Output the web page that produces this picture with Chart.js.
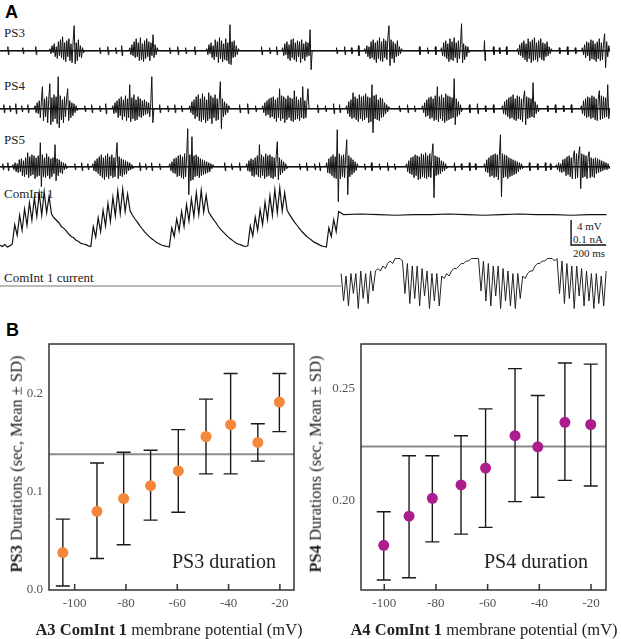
<!DOCTYPE html>
<html>
<head>
<meta charset="utf-8">
<script src="https://cdn.jsdelivr.net/npm/chart.js@4"></script>
<style>
  body { margin: 0; background: #fff; }
  #fig { position: relative; width: 621px; height: 639px; overflow: hidden; font-family: 'Liberation Serif', 'Times New Roman', serif; color: #222; }
  #fig canvas { position: absolute; }
  .lbl { position: absolute; white-space: nowrap; line-height: 1; }
  .panel { font-family: 'Liberation Sans', Arial, sans-serif; font-weight: bold; font-size: 18px; color: #000; }
  .trace { font-size: 13px; }
  .bar { font-size: 11px; }
  .axis { font-size: 16.5px; }
  .note { font-size: 20px; }
  .rot { transform: translate(-50%, -50%) rotate(-90deg); }
  .mid { transform: translate(-50%, -50%); }
</style>
</head>
<body>
<div id="fig">
  <div class="lbl panel" style="left:5px;top:3px">A</div>
  <div class="lbl trace" style="left:4px;top:26px">PS3</div>
  <div class="lbl trace" style="left:4px;top:79px">PS4</div>
  <div class="lbl trace" style="left:4px;top:133px">PS5</div>
  <div class="lbl trace" style="left:4px;top:187px">ComInt 1</div>
  <div class="lbl trace" style="left:4px;top:271px">ComInt 1 current</div>
  <div class="lbl bar" style="left:577px;top:221px">4 mV</div>
  <div class="lbl bar" style="left:573px;top:234px">0.1 nA</div>
  <div class="lbl bar" style="left:573px;top:248px">200 ms</div>

  <canvas id="ps3" width="610" height="54" style="left:0;top:18px"></canvas>
  <canvas id="ps4" width="610" height="66" style="left:0;top:70px"></canvas>
  <canvas id="ps5" width="610" height="84" style="left:0;top:122px"></canvas>
  <canvas id="comint" width="610" height="70" style="left:0;top:182px"></canvas>
  <canvas id="current" width="610" height="64" style="left:0;top:252px"></canvas>

  <div class="lbl panel" style="left:6px;top:321px">B</div>
  <canvas id="durPS3" width="310" height="324" style="left:0;top:315px"></canvas>
  <canvas id="durPS4" width="311" height="324" style="left:310px;top:315px"></canvas>
  <div class="lbl axis rot" style="left:17px;top:464px"><b>PS3</b> Durations (sec, Mean ± SD)</div>
  <div class="lbl axis rot" style="left:316px;top:464px"><b>PS4</b> Durations (sec, Mean ± SD)</div>
  <div class="lbl axis mid" style="left:169px;top:630px"><b>A3 ComInt 1</b> membrane potential (mV)</div>
  <div class="lbl axis mid" style="left:484px;top:630px"><b>A4 ComInt 1</b> membrane potential (mV)</div>
  <div class="lbl note" style="left:172px;top:551px">PS3 duration</div>
  <div class="lbl note" style="left:484px;top:551px">PS4 duration</div>
</div>

<script>
// ---------- Panel A: recordings (time in ms) ----------
const T_MAX = 3480;
const SAMPLE_MS = 6;    // extracellular burst sampling
const INTRA_MS = 14;    // intracellular sampling
const STEP_MS = 1946;   // switch to voltage clamp

// PS3 bursts
const ps3Starts = [285, 741, 1180, 1613, 2081, 2519, 2953, 3323];
const ps3Bursts = [
  [2,-3,5,-2,7,-6,4,-8,9,-5,11,-7,14,-9,8,-11,10,-6,12,-10,7,-12,9,25,-13,8,-10,11,-6,5,-7,3,-2],
  [3,-4,6,-5,9,-7,12,-6,8,-10,13,-9,7,-11,10,-8,12,-6,9,-10,8,-5,16,-7,6,-4,3],
  [2,-4,6,-3,8,-7,5,-9,11,-6,9,-12,13,-8,10,-11,7,-9,12,-10,8,-13,26,-14,9,-7,10,-6,5,-4,2],
  [3,-5,7,-4,9,-8,6,-10,11,-7,12,-9,8,-11,10,-6,9,-12,11,-8,7,-10,9,-6,8,-5,21,-19],
  [2,-3,5,-6,4,-8,9,-7,11,-9,8,-12,10,-8,13,-10,9,-11,12,-7,10,-9,14,25,-15,11,-8,9,-12,7,-6,10,-5,4,-3,2],
  [3,-5,8,-6,10,-8,7,-11,12,-9,9,-10,13,-7,8,-12,10,-8,6,27,-12,7,-9,5,-6,4,-2],
  [2,-4,6,-5,8,-7,10,-9,7,-11,12,-8,9,-12,11,-10,13,-9,8,-11,10,-7,12,-9,8,-10,7,-6,9,-5,4,-3,2],
  [3,-4,6,-7,9,-5,8,-10,11,-8,10,-9,7,-11,9,-8,12,-10,8,-9,6,17,-17,9,-6,5]
];
const ps3Ticks = [46,131,205,570,616,661,695,969,1015,1060,1112,1493,1539,1579,1921,1967,2006,2046,2394,2440,2485,2765,2816,2850,2890,3192,3238,3283];
const ps3TickAmps = [4,3,4,3,4,3,5,3,4,3,4,4,3,4,3,4,3,5,4,3,4,10,4,3,4,3,4,3];

// PS4 bursts
const ps4Starts = [200, 644, 1083, 1499, 1978, 2411, 2867, 3317];
const ps4Bursts = [
  [3,-4,6,-5,8,-9,7,22,-12,10,-8,12,-14,9,25,-16,11,-13,14,-10,12,-15,32,-19,13,-11,9,-14,12,-8,10,20,-12,8,-9,6,-7,5,-4,3,-2],
  [3,-5,6,-4,8,-9,10,-7,12,-11,9,-8,13,-12,10,-9,24,-13,11,-10,14,-12,9,-11,12,-8,10,-9,8,-7,9,-6,7,-5,6,-8,5,32,-14],
  [3,-4,7,-6,9,-10,12,-8,14,-12,10,-13,15,-11,12,-14,9,-12,16,-10,13,-15,11,-9,14,-12,10,-11,9,27,-20,10,-8,7,-6,5,-4,3],
  [3,-4,6,-7,8,-6,10,-9,11,-8,12,-10,9,-13,11,-9,20,-12,13,-10,12,-14,10,-11,13,-9,11,-12,10,-13,18,-11,12,-10,9,-12,11,-9,22,-10,8,-9,7,20],
  [3,-5,7,-8,9,-10,16,-9,12,-11,10,-13,14,-10,12,-12,13,-11,15,-9,12,-14,11,-13,24,-24,13,-10,14,-11,9,-12,11,-9,10,-8,6,-5,4,-3,2],
  [3,-4,6,-8,9,-7,11,-10,12,-9,10,-12,13,-11,22,-13,12,-10,14,-12,11,-14,15,-12,13,-11,12,-10,11,-9,30,-16,10,-8,7,-6,4,-3],
  [3,-5,7,-6,9,-8,11,-10,12,-9,14,-11,10,-12,13,-10,12,-11,10,-13,11,18,-16,12,-10,11,-9,10,-8,26,-9,7,-5,4,-3],
  [3,-5,8,-7,10,-9,12,-8,11,-10,13,-9,12,-11,10,-12,9,18,-11,13,-10,12,-9,11,-8,24,-10]
];
const ps4Ticks = [23,57,91,125,160,485,524,570,604,912,958,998,1037,1368,1414,1459,1813,1858,1904,1938,2280,2326,2366,2679,2725,2770,2816,3124,3169,3215,3260];
const ps4TickAmps = [4,3,5,3,4,3,4,3,5,4,3,4,3,4,5,3,4,3,5,4,3,4,3,4,5,3,4,3,4,3,4];

// PS5 bursts
const ps5Starts = [74, 530, 969, 1408, 1864, 2320, 2765, 3175];
const ps5Bursts = [
  [2,-3,4,-5,3,-6,7,-5,8,-9,6,-10,9,-8,14,-11,10,-9,12,-8,11,-12,9,-10,11,-9,24,-20,12,-10,9,-11,13,-9,10,-12,8,-10,9,-7,22,-14,8,-9,7,-6,5,-7,4,-3,3,-2],
  [3,-4,6,-5,8,-7,10,-9,12,-11,9,-13,11,-10,13,-12,10,-9,12,-11,9,-10,11,24,-12,10,-9,8,-10,7,-8,6,-7,5,-4,4,-3,2,-2],
  [3,-4,5,-6,8,-7,9,-10,11,-9,12,-11,10,-12,13,-10,11,38,-28,12,-14,30,-13,11,-10,12,-9,10,-11,8,-9,7,-8,6,-7,5,-6,4,-5,3,-2,2],
  [3,-4,6,-5,8,-9,7,-10,9,-8,11,-10,22,-11,12,-9,10,-12,13,-10,11,-9,12,-11,10,-12,9,-10,11,25,-13,9,-8,7,-6,5,-4,3,-2],
  [4,-6,8,-7,10,-9,12,-11,10,-12,37,-35,13,-12,11,-10,12,-11,10,27,-28,11,-10,9,-8,7,-6,5,-4,3],
  [3,-5,6,-7,9,-8,10,-11,12,-9,11,-13,10,-12,13,-10,12,-11,14,-12,11,-10,13,-11,12,23,-31,11,-9,10,-8,9,-7,6,-5,5,-4,3,-2],
  [3,-5,7,-6,9,-10,11,-9,12,-11,13,-10,12,-13,11,32,-30,13,-11,12,-10,11,-12,9,-10,8,-9,7,-8,6,-7,5,-5,4,-3,3,-2],
  [2,-3,4,-5,3,-6,7,-5,8,-9,10,-8,11,-10,9,-12,11,16,-12,13,-11,12,20,-22,13,-11,12,-10,11,-12,10,15,-11,9,-10,8,-11,9,-7,8,-6,7,-5,6,-4,5,-3,4,-3,3,-2]
];
const ps5Ticks = [17,46,428,467,502,798,832,866,912,1283,1322,1368,1710,1750,1796,1824,2081,2120,2166,2212,2252,2594,2633,2679,2713,3021,3067,3112,3141];
const ps5TickAmps = [3,4,3,4,3,4,3,4,3,4,3,4,3,4,3,4,3,4,3,4,3,4,3,4,3,4,3,4,3];

// ComInt 1 membrane potential (mV, relative to trough), sampled every INTRA_MS
const comIntCycle1 = [0.2,0,0.3,-0.1,0.1,0.4,3.5,1.8,5.0,2.6,6.0,3.4,7.0,4.2,7.8,4.8,8.5,5.0,8.8,5.4,8.0,5.2,4.6,4.2,3.8,3.2,2.9,2.5,2.0,1.6,1.4,1.0,0.8,0.5,0.4,0.3,0.1,0.0];
const comIntCycle2 = [3.2,1.5,4.6,2.4,5.8,3.3,6.9,4.0,7.9,4.9,8.9,5.3,9.2,5.6,8.4,5.7,5.0,4.4,3.9,3.3,2.8,2.3,1.9,1.5,1.2,0.9,0.6,0.4,0.2,0.1,0.0,-0.1];
const comIntCycle3 = [3.0,1.6,4.4,2.5,5.6,3.2,6.7,4.1,7.6,4.8,8.6,5.1,9.0,5.5,8.2,5.5,4.9,4.3,3.8,3.2,2.7,2.3,1.9,1.5,1.2,0.9,0.6,0.4,0.3,0.1,0.0,0.1];
const comIntCycle4 = [3.3,1.7,4.7,2.6,5.9,3.5,7.1,4.3,8.1,5.0,9.1,5.4,9.4,5.7,8.6,5.8,5.1,4.5,3.9,3.4,2.9,2.4,2.0,1.6,1.3,1.0,0.7,0.5,0.3,0.1,0.0,-0.1];
const comIntCycle5 = [3.0,1.6,4.3,2.4,5.6];
const comIntHeld = [5.1,5.2,5.1,5.0,5.1,5.1,5.2,5.1,5.0,5.1,5.2,5.1,5.1,5.0,5.1,5.1]; // every 100 ms after step

// ComInt 1 clamp current (nA), sampled every INTRA_MS after STEP_MS
const currentSamples = [
  0.05,-0.06,0.04,-0.08,0.05,-0.03,0.05,-0.09,0.06,-0.05,0.05,-0.07,0.06,-0.02,0.06,
  0.07,0.06,0.08,0.07,0.09,0.10,0.09,0.11,0.11,0.11,
  0.10,-0.03,0.09,-0.07,0.08,-0.05,0.08,-0.08,0.07,-0.04,0.06,-0.09,0.05,-0.06,0.05,-0.08,0.04,
  0.03,0.05,0.04,0.06,0.07,0.07,0.08,0.09,0.09,0.10,0.10,0.11,0.11,0.11,
  0.11,-0.02,0.10,-0.06,0.09,-0.08,0.08,-0.04,0.08,-0.09,0.07,-0.06,0.06,-0.08,0.05,-0.09,0.05,-0.05,0.04,
  0.03,0.05,0.06,0.06,0.08,0.09,0.09,0.10,0.10,0.11,0.11,0.11,0.10,
  0.11,-0.03,0.10,-0.07,0.09,-0.05,0.08,-0.09,0.08,-0.04,0.07,-0.08,0.06,-0.06,0.05,-0.09,0.05,-0.07,0.04,-0.08,0.06
];

// scale bar
const BAR_MS = 200, BAR_MV = 4, BAR_AT_MS = 3258, BAR_BASE_MV = 0.24;

// ---------- Panel B: durations vs membrane potential ----------
const ps3Voltage = [-104.6, -91.3, -80.9, -70.4, -59.6, -48.8, -39.2, -28.6, -20.2];
const ps3Duration = [0.038, 0.080, 0.093, 0.106, 0.121, 0.156, 0.168, 0.150, 0.191];
const ps3Upper = [0.072, 0.129, 0.140, 0.142, 0.163, 0.194, 0.220, 0.169, 0.220];
const ps3Lower = [0.004, 0.032, 0.046, 0.071, 0.079, 0.118, 0.118, 0.131, 0.161];
const ps3Control = 0.138;

const ps4Voltage = [-100.2, -90.4, -81.4, -70.3, -60.8, -49.4, -40.6, -30.1, -20.1];
const ps4Duration = [0.180, 0.193, 0.201, 0.207, 0.2145, 0.229, 0.224, 0.235, 0.234];
const ps4Upper = [0.195, 0.220, 0.220, 0.229, 0.241, 0.259, 0.247, 0.2615, 0.261];
const ps4Lower = [0.1645, 0.1655, 0.1815, 0.185, 0.188, 0.1995, 0.2015, 0.209, 0.2065];
const ps4Control = 0.2242;

const potentialTicks = [-100, -80, -60, -40, -20];

// ---------- helpers ----------
function extracellularPoints(starts, bursts, ticks, amps) {
  const pts = [];
  starts.forEach((t0, b) => {
    pts.push({x: t0 - SAMPLE_MS, y: 0});
    bursts[b].forEach((v, i) => pts.push({x: t0 + i * SAMPLE_MS, y: v}));
    pts.push({x: t0 + bursts[b].length * SAMPLE_MS, y: 0});
  });
  ticks.forEach((t, i) => {
    pts.push({x: t - 4, y: 0}, {x: t - 1, y: amps[i]}, {x: t + 2, y: -amps[i]}, {x: t + 5, y: 0});
  });
  pts.sort((a, b) => a.x - b.x);
  return [{x: 0, y: 0}, ...pts, {x: T_MAX, y: 0}];
}

function traceChart(id, datasets, yMin, yMax, extraPlugins) {
  return new Chart(document.getElementById(id), {
    type: 'line',
    data: { datasets: datasets },
    options: {
      responsive: false,
      animation: false,
      layout: { padding: 0 },
      elements: { point: { radius: 0 }, line: { tension: 0 } },
      plugins: { legend: { display: false }, tooltip: { enabled: false } },
      scales: {
        x: { type: 'linear', display: false, min: 0, max: T_MAX },
        y: { display: false, min: yMin, max: yMax }
      }
    },
    plugins: extraPlugins || []
  });
}

function line(data, color, width) {
  return { data: data, borderColor: color, borderWidth: width, clip: false, pointRadius: 0 };
}

// extracellular traces
[['ps3', ps3Starts, ps3Bursts, ps3Ticks, ps3TickAmps, -21.3, 32.7],
 ['ps4', ps4Starts, ps4Bursts, ps4Ticks, ps4TickAmps, -27.3, 38.7],
 ['ps5', ps5Starts, ps5Bursts, ps5Ticks, ps5TickAmps, -39.3, 44.7]].forEach(r => {
  const pts = extracellularPoints(r[1], r[2], r[3], r[4]);
  traceChart(r[0], [
    line([{x: 0, y: 0}, {x: T_MAX, y: 0}], '#111', 1.6),
    line(pts, '#111', 1)
  ], r[5], r[6]);
});

// intracellular voltage
const slow = [].concat(comIntCycle1, comIntCycle2, comIntCycle3, comIntCycle4, comIntCycle5);
const vPts = slow.map((v, i) => ({x: i * INTRA_MS, y: v}));
comIntHeld.forEach((v, i) => vPts.push({x: STEP_MS + 14 + i * 100, y: v}));

const scaleBar = {
  id: 'scaleBar',
  afterDatasetsDraw(chart) {
    const {ctx, scales: {x, y}} = chart;
    const x0 = x.getPixelForValue(BAR_AT_MS);
    const x1 = x.getPixelForValue(BAR_AT_MS + BAR_MS);
    const y0 = y.getPixelForValue(BAR_BASE_MV);
    const y1 = y.getPixelForValue(BAR_BASE_MV + BAR_MV);
    ctx.save();
    ctx.strokeStyle = '#111';
    ctx.lineWidth = 1.4;
    ctx.beginPath();
    ctx.moveTo(x0, y1);
    ctx.lineTo(x0, y0);
    ctx.lineTo(x1, y0);
    ctx.stroke();
    ctx.restore();
  }
};
traceChart('comint', [line(vPts, '#111', 1.2)], -0.88, 10.32, [scaleBar]);

// clamp current
const iPts = currentSamples.map((v, i) => ({x: STEP_MS + i * INTRA_MS, y: v}));
traceChart('current', [
  line([{x: 0, y: 0}, {x: STEP_MS, y: 0}], '#777', 1),
  line(iPts, '#222', 1)
], -0.12, 0.136);

// ---------- Panel B charts ----------
function errorBars(xs, lo, hi, control) {
  return {
    id: 'errorBars',
    beforeDatasetsDraw(chart) {
      const {ctx, chartArea, scales: {x, y}} = chart;
      ctx.save();
      // control duration line
      ctx.strokeStyle = '#8c8c8c';
      ctx.lineWidth = 2;
      const yc = y.getPixelForValue(control);
      ctx.beginPath();
      ctx.moveTo(chartArea.left, yc);
      ctx.lineTo(chartArea.right, yc);
      ctx.stroke();
      // mean +/- SD
      ctx.strokeStyle = '#1a1a1a';
      ctx.lineWidth = 1.4;
      xs.forEach((v, i) => {
        const px = x.getPixelForValue(v);
        const top = y.getPixelForValue(hi[i]);
        const bot = y.getPixelForValue(lo[i]);
        ctx.beginPath();
        ctx.moveTo(px, top); ctx.lineTo(px, bot);
        ctx.moveTo(px - 7, top); ctx.lineTo(px + 7, top);
        ctx.moveTo(px - 7, bot); ctx.lineTo(px + 7, bot);
        ctx.stroke();
      });
      ctx.restore();
    },
    afterDraw(chart) {
      const {ctx, chartArea: a, scales: {x}} = chart;
      ctx.save();
      ctx.strokeStyle = '#333';
      ctx.lineWidth = 1.5;
      ctx.strokeRect(a.left, a.top, a.right - a.left, a.bottom - a.top);
      ctx.beginPath();
      potentialTicks.forEach(t => {
        const px = x.getPixelForValue(t);
        ctx.moveTo(px, a.bottom);
        ctx.lineTo(px, a.bottom - 6);
      });
      ctx.stroke();
      ctx.restore();
    }
  };
}

function durationChart(id, xs, ys, lo, hi, control, color, xRange, yRange, yStep, digits, yWidth, padRight) {
  const tickFont = { family: "'Liberation Serif', serif", size: 13 };
  return new Chart(document.getElementById(id), {
    type: 'scatter',
    data: { datasets: [{
      data: xs.map((v, i) => ({x: v, y: ys[i]})),
      backgroundColor: color,
      borderWidth: 0,
      pointRadius: 5.5
    }] },
    options: {
      responsive: false,
      animation: false,
      layout: { padding: { top: 29, right: padRight, left: 0, bottom: 0 } },
      plugins: { legend: { display: false }, tooltip: { enabled: false } },
      scales: {
        x: {
          type: 'linear', min: xRange[0], max: xRange[1],
          grid: { display: false, drawTicks: false }, border: { display: false },
          ticks: { stepSize: 20, includeBounds: false, padding: 6, maxRotation: 0, color: '#555', font: tickFont },
          afterFit: s => { s.height = 49; }
        },
        y: {
          min: yRange[0], max: yRange[1],
          grid: { display: false, drawTicks: false }, border: { display: false },
          ticks: { stepSize: yStep, includeBounds: false, padding: 6, color: '#555', font: tickFont,
                   callback: v => v.toFixed(digits) },
          afterFit: s => { s.width = yWidth; }
        }
      }
    },
    plugins: [errorBars(xs, lo, hi, control)]
  });
}

durationChart('durPS3', ps3Voltage, ps3Duration, ps3Lower, ps3Upper, ps3Control,
  '#F5873B', [-110, -14.5], [0, 0.25], 0.1, 1, 49, 16);
durationChart('durPS4', ps4Voltage, ps4Duration, ps4Lower, ps4Upper, ps4Control,
  '#AD1C8C', [-109, -14.2], [0.16, 0.27], 0.05, 2, 51, 15);
</script>
</body>
</html>
